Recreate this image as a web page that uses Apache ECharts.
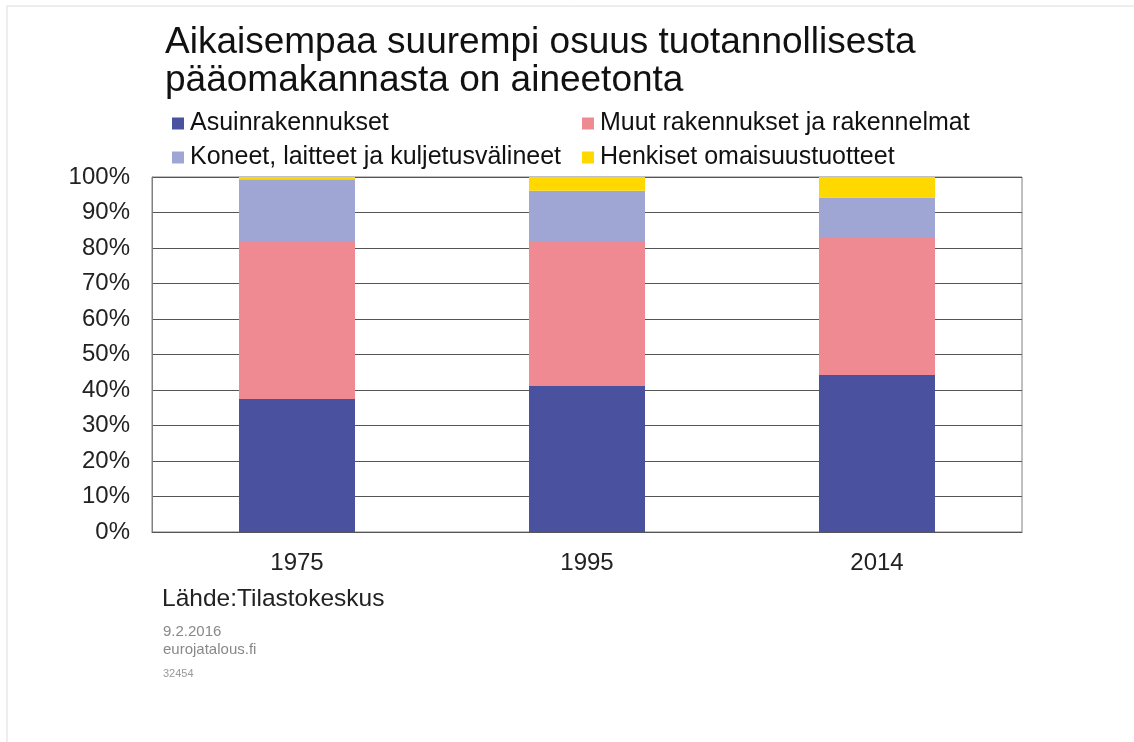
<!DOCTYPE html>
<html>
<head>
<meta charset="utf-8">
<script src="https://cdn.jsdelivr.net/npm/echarts@6/dist/echarts.min.js"></script>
<style>
  html, body { margin: 0; padding: 0; background: #fff; }
  #chart { width: 1134px; height: 742px; }
</style>
</head>
<body>
<div id="chart"></div>
<script>
// data (percent of capital stock)
var years = ["1975", "1995", "2014"];
var asuin = [37.5, 41.1, 44.2];
var muut = [44.2, 40.6, 38.6];
var koneet = [17.7, 14.4, 11.4];
var henkiset = [0.6, 3.9, 5.8];
var yTicks = [0, 10, 20, 30, 40, 50, 60, 70, 80, 90, 100];

var names = [
  "Asuinrakennukset",
  "Muut rakennukset ja rakennelmat",
  "Koneet, laitteet ja kuljetusvälineet",
  "Henkiset omaisuustuotteet"
];
var colors = ["#4A529F", "#EF8A92", "#A0A6D3", "#FFD800"];
var values = [asuin, muut, koneet, henkiset];

var font = "Liberation Sans, Arial, sans-serif";

var chartDom = document.getElementById("chart");
var myChart = echarts.init(chartDom);
var option;

function legendAt(left, items) {
  return {
    orient: "vertical",
    left: left,
    top: 106,
    itemGap: 9,
    itemWidth: 12,
    itemHeight: 12,
    icon: "rect",
    selectedMode: false,
    data: items,
    textStyle: { fontFamily: font, fontSize: 25, color: "#111", padding: [0, 0, 0, 1] }
  };
}

option = {
  animation: false,
  backgroundColor: "#fff",
  title: {
    text: "Aikaisempaa suurempi osuus tuotannollisesta\npääomakannasta on aineetonta",
    left: 160,
    top: 19,
    textStyle: { fontFamily: font, fontSize: 37, fontWeight: "normal", color: "#111", lineHeight: 38 }
  },
  legend: [
    legendAt(167, [names[0], names[2]]),
    legendAt(577, [names[1], names[3]])
  ],
  grid: {
    left: 152,
    right: 112,
    top: 177,
    bottom: 210,
    show: true,
    borderColor: "#808080",
    borderWidth: 1
  },
  xAxis: {
    type: "category",
    data: years,
    axisTick: { show: false },
    axisLine: { lineStyle: { color: "#555" } },
    axisLabel: { fontFamily: font, fontSize: 24, color: "#222", margin: 19 }
  },
  yAxis: {
    type: "value",
    min: yTicks[0],
    max: yTicks[yTicks.length - 1],
    interval: 10,
    axisLine: { show: true, lineStyle: { color: "#808080" } },
    axisTick: { show: false },
    splitLine: { lineStyle: { color: "#555", width: 1 } },
    axisLabel: { fontFamily: font, fontSize: 24, color: "#222", margin: 22, formatter: "{value}%" }
  },
  graphic: [
    {
      type: "polyline",
      shape: { points: [[7, 742], [7, 6], [1134, 6]] },
      style: { stroke: "#dcdcdc", lineWidth: 1, fill: null }
    },
    {
      type: "text", left: 162, top: 587,
      style: { text: "Lähde:Tilastokeskus", fontFamily: font, fontSize: 24.5, fill: "#222" }
    },
    {
      type: "text", left: 163, top: 624,
      style: { text: "9.2.2016", fontFamily: font, fontSize: 15, fill: "#888" }
    },
    {
      type: "text", left: 163, top: 642,
      style: { text: "eurojatalous.fi", fontFamily: font, fontSize: 15, fill: "#888" }
    },
    {
      type: "text", left: 163, top: 668,
      style: { text: "32454", fontFamily: font, fontSize: 11, fill: "#999" }
    }
  ],
  series: names.map(function (n, i) {
    return {
      name: n,
      type: "bar",
      stack: "total",
      barWidth: "40%",
      itemStyle: { color: colors[i] },
      data: values[i]
    };
  })
};

option && myChart.setOption(option);
</script>
</body>
</html>
